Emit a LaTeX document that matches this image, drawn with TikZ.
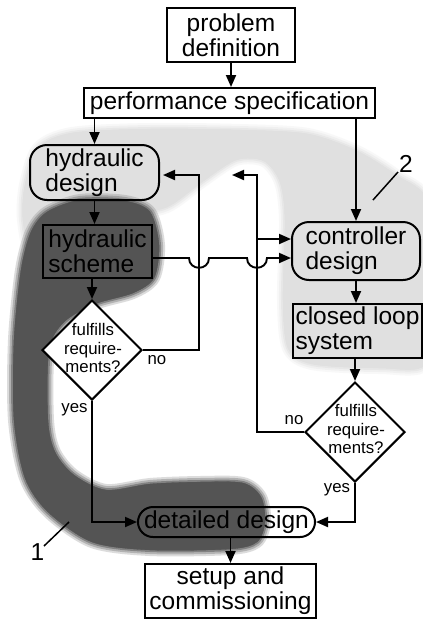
\documentclass[tikz,border=0pt]{standalone}
\usepackage{fontspec}
\setmainfont{Liberation Sans}
\usetikzlibrary{arrows.meta,shapes.geometric,calc}
\definecolor{darkblob}{gray}{0.33}
\definecolor{lightblob}{gray}{0.88}
\newcommand\mainsize{\fontsize{24.5}{25}\selectfont}
\newcommand\labsize{\fontsize{16.8}{18.5}\selectfont}
\tikzset{
  box/.style={draw, line width=2pt, inner sep=0pt, align=center, font=\mainsize},
  rbox/.style={box, rounded corners=17pt},
  decision/.style={diamond, draw, line width=2pt, fill=white, inner sep=0pt,
    minimum width=100pt, minimum height=100pt},
  arr/.style={line width=1.9pt, -{Triangle[length=12pt,width=10pt]}},
  lab/.style={font=\labsize, inner sep=0pt},
  numlab/.style={font=\mainsize, inner sep=0pt},
  leader/.style={line width=1.5pt},
}
\begin{document}
\begin{tikzpicture}[x=1pt,y=-1pt]
\useasboundingbox (0,0) rectangle (423,619);
\fill[white] (0,0) rectangle (423,619);
% light blob (2)
\foreach \w/\o in {12/0.2,8/0.3,4/0.5,0.1/1}{
  \filldraw[draw=lightblob, fill=lightblob, line width=\w pt, opacity=\o]
    plot[smooth cycle] coordinates {(25,185) (38,148) (72,133) (150,129) (240,130)
      (308,134) (357,151) (396,175) (428,203) (430,300) (426,364) (380,368)
      (312,364) (288,348) (283,300) (285,220) (280,182) (264,161) (236,160)
      (202,182) (167,207) (122,217) (62,240) (33,258) (23,220)};
}
% dark blob (1)
\foreach \w/\o in {12/0.2,8/0.3,4/0.5,0.1/1}{
  \filldraw[draw=darkblob, fill=darkblob, line width=\w pt, opacity=\o]
    plot[smooth cycle] coordinates {(47,212) (80,200) (125,201) (150,212) (159,245)
      (154,278) (133,293) (95,304) (64,322) (49,350) (48,420) (55,452) (74,475)
      (106,490) (150,484) (200,482) (243,483) (261,497) (265,522) (257,542)
      (230,549) (150,550) (92,542) (48,512) (25,478) (14,420) (14,340) (21,270)
      (31,232)};
}
% nodes
\node[box, minimum width=128pt, minimum height=54pt] (prob) at (231,35) {problem\\definition};
\node[box, minimum width=291pt, minimum height=30pt] (perf) at (229.5,103) {performance specification};
\node[rbox, minimum width=129pt, minimum height=55pt, align=left] (hd) at (94.5,172.5) {hydraulic\\design};
\node[box, fill=darkblob, minimum width=109pt, minimum height=53pt, align=left] (hs) at (97.5,251.5) {hydraulic\\scheme};
\node[rbox, minimum width=128pt, minimum height=58pt, align=left] (cd) at (356,251) {controller\\design};
\node[box, minimum width=129pt, minimum height=54pt, align=left] (cls) at (357.5,331) {closed loop\\system};
\node[decision] (d1) at (92,350) {};
\node[lab, align=center] (d1t) at (93,348) {fulfills\\require-\\ments?};
\node[decision] (d2) at (355,432) {};
\node[lab, align=center] (d2t) at (356,429) {fulfills\\require-\\ments?};
\node[box, rounded corners=15pt, minimum width=177pt, minimum height=30pt] (dd) at (226.5,522) {detailed design};
\node[box, minimum width=171pt, minimum height=54pt] (su) at (230.5,591) {setup and\\commissioning};
% connectors
\draw[arr] (prob.south) -- (prob.south |- perf.north);
\draw[arr] (hd.north |- perf.south) -- (hd.north);
\draw[arr] (cd.north |- perf.south) -- (cd.north);
\draw[arr] (hd.south) -- (hd.south |- hs.north);
\draw[arr] (d1.north |- hs.south) -- (d1.north);
\coordinate (fb1) at (199,175);
\draw[arr, shorten >=3pt] (d1.east) -| (fb1) -- (hd.east |- fb1);
\coordinate (fb2) at (257,175);
\coordinate (fb2end) at (232,175);
\draw[arr] (d2.west) -| (fb2) -- (fb2end);
\coordinate (br) at (257,239);
\draw[arr] (br) -- (cd.west |- br);
\coordinate (j) at (0,258);
\draw[arr] (hs.east |- j) -- (189,258) .. controls (189,271) and (209,271) .. (209,258)
  -- (247,258) .. controls (247,271) and (267,271) .. (267,258) -- (cd.west |- j);
\draw[arr] (cd.south) -- (cd.south |- cls.north);
\draw[arr] (d2.north |- cls.south) -- (d2.north);
\draw[arr] (d1.south) |- (dd.west);
\draw[arr] (d2.south) |- (dd.east);
\draw[arr] (su.north |- dd.south) -- (su.north);
% labels
\node[lab] (no1) at (157,360) {no};
\node[lab] (yes1) at (74.5,410) {yes};
\node[lab] (no2) at (294,420) {no};
\node[lab] (yes2) at (337,490) {yes};
\node[numlab] (n1) at (37.5,552.5) {1};
\coordinate (n1a) at (44,546);
\coordinate (n1b) at (69,522);
\draw[leader] (n1a) -- (n1b);
\node[numlab] (n2) at (406,164) {2};
\coordinate (n2a) at (373,200);
\coordinate (n2b) at (398,172);
\draw[leader] (n2a) -- (n2b);
\end{tikzpicture}
\end{document}
